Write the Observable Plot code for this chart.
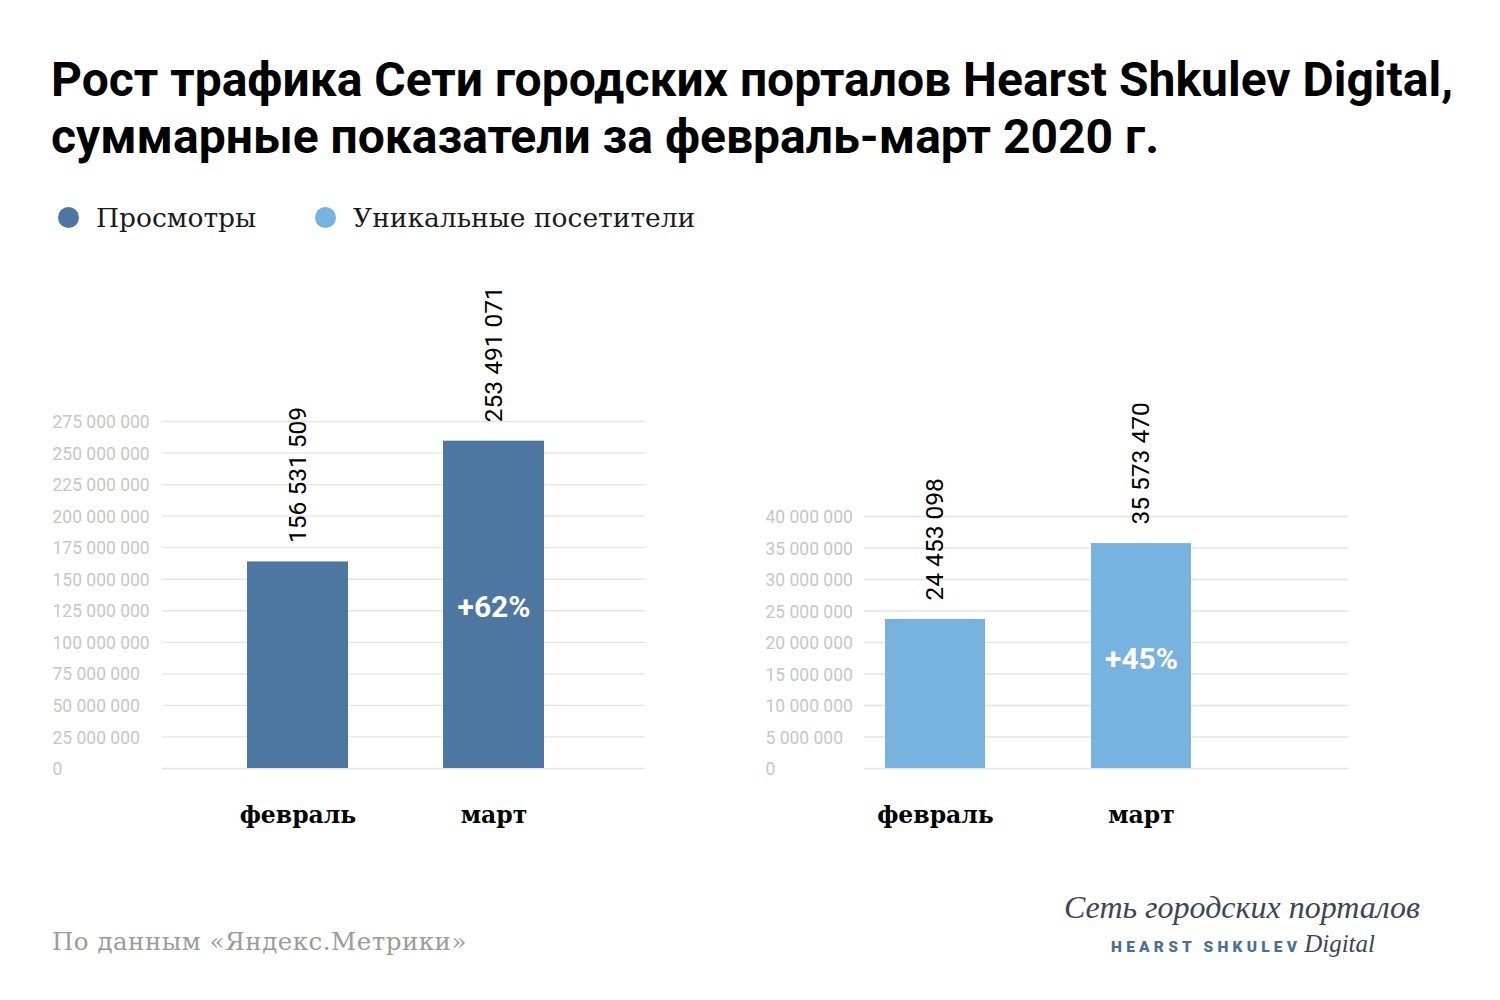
<!DOCTYPE html>
<html><head><meta charset="utf-8">
<script src="https://cdn.jsdelivr.net/npm/d3@7"></script>
<script src="https://cdn.jsdelivr.net/npm/@observablehq/plot@0.6"></script>
<style>
html,body{margin:0;padding:0;background:#fff}
body{width:1500px;height:1000px;position:relative;overflow:hidden;font-family:Roboto,sans-serif}
.abs{position:absolute}
#title{left:51px;top:51px;font-weight:700;font-size:48px;line-height:57px;color:#000;margin:0;white-space:nowrap}
.leg{top:200px;height:34px;display:flex;align-items:center;font-family:"DejaVu Serif",serif;font-size:26.5px;color:#1a1a1a;white-space:nowrap}
.dot{width:21px;height:21px;border-radius:50%;display:inline-block;margin-right:17px}
#src{left:52px;top:927px;font-family:"DejaVu Serif",serif;font-size:24.5px;letter-spacing:0.5px;color:#9b9b9b;white-space:nowrap}
#logo1{right:80px;top:889px;font-family:"Liberation Serif",serif;font-style:italic;font-size:32px;color:#3b4657;white-space:nowrap}
#logo2{right:125px;top:930px;white-space:nowrap;color:#3b4657}
#logo2 b{font-family:Roboto,sans-serif;font-weight:900;font-size:15.5px;letter-spacing:4.2px;color:#4a6e9b}
#logo2 i{font-family:"Liberation Serif",serif;font-size:25px;margin-left:3px}
svg{overflow:visible}
</style></head>
<body>
<div id="title" class="abs">Рост трафика Сети городских порталов Hearst Shkulev Digital,<br>суммарные показатели за февраль-март 2020 г.</div>
<div id="legend"></div>
<div id="left" class="abs" style="left:0;top:260px"></div>
<div id="right" class="abs" style="left:720px;top:260px"></div>
<div id="src" class="abs">По данным «Яндекс.Метрики»</div>
<div id="logo1" class="abs">Сеть городских порталов</div>
<div id="logo2" class="abs"><b>HEARST SHKULEV</b><i>Digital</i></div>
<script>
const months = ["февраль", "март"];
const seriesNames = ["Просмотры", "Уникальные посетители"];
const seriesColors = ["#4d76a0", "#78b2df"];
// bar heights
const viewsBars = [163700000, 259400000];
const visitorsBars = [23650000, 35700000];
// printed value labels
const viewsLabels = [156531509, 253491071];
const visitorsLabels = [24453098, 35573470];
const growthLabels = ["+62%", "+45%"];
const viewsTicks = [0, 25000000, 50000000, 75000000, 100000000, 125000000, 150000000, 175000000, 200000000, 225000000, 250000000, 275000000];
const visitorsTicks = [0, 5000000, 10000000, 15000000, 20000000, 25000000, 30000000, 35000000, 40000000];

const fmt = d => d3.format(",")(d).replace(/,/g, " ");

// legend
const legendPos = [52, 309];
const legend = document.getElementById("legend");
seriesNames.forEach((name, i) => {
  const el = document.createElement("div");
  el.className = "abs leg";
  el.style.left = legendPos[i] + 6 + "px";
  el.innerHTML = `<span class="dot" style="background:${seriesColors[i]}"></span>${name}`;
  legend.appendChild(el);
});

function panel({bars, labels, ticks, max, color, growth, marginLeft, marginRight, marginTop, xRange, xPadding, labelStart}) {
  const data = months.map((m, i) => ({m, v: bars[i], label: labels[i]}));
  return Plot.plot({
    width: 700,
    height: 590,
    marginLeft, marginRight, marginTop, marginBottom: 82,
    style: {overflow: "visible", fontFamily: "Roboto, sans-serif", background: "transparent"},
    x: {type: "band", domain: months, range: xRange, padding: xPadding, axis: null},
    y: {domain: [0, max]},
    marks: [
      Plot.ruleY(ticks, {stroke: "#e4e4e4", strokeWidth: 1.3}),
      Plot.axisY(ticks, {tickSize: 0, tickPadding: 0, textAnchor: "start", dx: labelStart - marginLeft, dy: 1,
        fontSize: 17.5, fill: "#c6c6c6", tickFormat: fmt, label: null}),
      Plot.barY(data, {x: "m", y: "v", fill: color}),
      Plot.text(data, {x: "m", y: "v", text: d => fmt(d.label), rotate: -90, textAnchor: "start", dy: -19,
        fontSize: 24.5, fill: "#000"}),
      Plot.text([data[1]], {x: "m", y: d => d.v / 2, text: () => growth, fill: "#fff", fontWeight: 700, fontSize: 30, dy: 3}),
      Plot.text(months, {x: d => d, frameAnchor: "bottom", dy: 54, text: d => d, fontSize: 23.5, fontWeight: 700,
        fontFamily: "DejaVu Serif, serif", fill: "#000"})
    ]
  });
}

document.getElementById("left").appendChild(panel({
  bars: viewsBars, labels: viewsLabels, ticks: viewsTicks, max: 275000000, color: seriesColors[0], growth: growthLabels[0],
  marginLeft: 162, marginRight: 55, marginTop: 161, xRange: [151.2, 638.7], xPadding: 0.487, labelStart: 52
}));
document.getElementById("right").appendChild(panel({
  bars: visitorsBars, labels: visitorsLabels, ticks: visitorsTicks, max: 40000000, color: seriesColors[1], growth: growthLabels[1],
  marginLeft: 144, marginRight: 72, marginTop: 256, xRange: [58, 577.4], xPadding: 0.513, labelStart: 45
}));
</script>
</body></html>
